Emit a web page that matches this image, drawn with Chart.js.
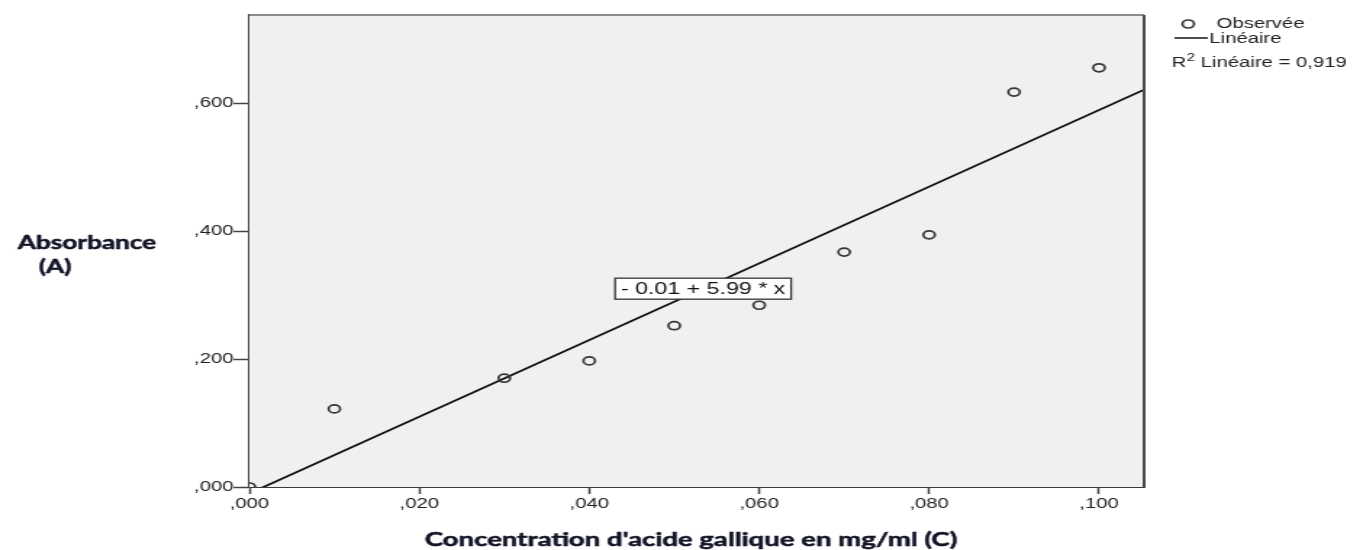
<!DOCTYPE html>
<html>
<head>
<meta charset="utf-8">
<style>
  html, body { margin: 0; padding: 0; background: #fff; overflow: hidden; }
  #c { display: block; }
</style>
<script src="https://cdn.jsdelivr.net/npm/chart.js@4/dist/chart.umd.min.js"></script>
</head>
<body>
<!-- the drawing surface is 940 px wide and shown 1.45x wider -->
<canvas id="c" width="940" height="550" style="width:1363px;height:550px"></canvas>
<script>
// Gallic acid calibration: concentration (mg/ml) vs absorbance
const concentrations = [0.000, 0.010, 0.030, 0.040, 0.050, 0.060, 0.070, 0.080, 0.090, 0.100];
const absorbances    = [0.000, 0.122, 0.170, 0.197, 0.252, 0.284, 0.367, 0.394, 0.617, 0.655];

const xTicks = [0, 0.02, 0.04, 0.06, 0.08, 0.10];
const yTicks = [0, 0.2, 0.4, 0.6];
const xRange = [0, 0.1053];
const yRange = [0, 0.7375];

// linear fit  A = a + b * C
const fitIntercept = -0.01;
const fitSlope = 5.99;
const rSquared = '0,919';
const equationAt = 0.0534;   // concentration where the equation box sits on the line

const xTitle = "Concentration d'acide gallique en mg/ml (C)";
const yTitle = ['Absorbance', '(A)'];
const legendObserved = 'Observée';
const legendLinear = 'Linéaire';

const fmt = v => ',' + v.toFixed(3).split('.')[1];
const fitAt = c => fitIntercept + fitSlope * c;
const equationText = (fitIntercept < 0 ? '- ' : '') + Math.abs(fitIntercept).toFixed(2) +
                     ' + ' + fitSlope.toFixed(2) + ' * x';

const pointColor = '#363636';
const titleColor = '#121326';

function drawRing(ctx, x, y, r) {
  ctx.save();
  ctx.beginPath();
  ctx.arc(x, y, r, 0, Math.PI * 2);
  ctx.lineWidth = 1.7;
  ctx.strokeStyle = pointColor;
  ctx.stroke();
  ctx.restore();
}

// bold title text with a thin outline for a heavier weight
function heavyText(ctx, text, x, y) {
  ctx.fillText(text, x, y);
  ctx.lineWidth = 0.5;
  ctx.strokeStyle = ctx.fillStyle;
  ctx.strokeText(text, x, y);
}

const decorations = {
  id: 'decorations',
  beforeDatasetsDraw(chart) {
    const { ctx, chartArea: a } = chart;
    ctx.save();
    ctx.fillStyle = '#f0f0f0';
    ctx.fillRect(a.left, a.top, a.right - a.left, a.bottom - a.top);
    ctx.restore();
  },
  afterDatasetsDraw(chart) {
    const { ctx, chartArea: a, scales } = chart;
    ctx.save();
    // frame: top and right edges
    ctx.lineWidth = 2;
    ctx.strokeStyle = '#8c8c8c';
    ctx.beginPath();
    ctx.moveTo(a.left, a.top); ctx.lineTo(a.right, a.top);
    ctx.stroke();
    ctx.strokeStyle = '#4a4a4a';
    ctx.beginPath();
    ctx.moveTo(a.right, a.top); ctx.lineTo(a.right, a.bottom);
    ctx.stroke();

    // equation box on the fit line
    const ex = scales.x.getPixelForValue(equationAt);
    const ey = scales.y.getPixelForValue(fitAt(equationAt));
    ctx.font = '16px "Liberation Sans", Arial, sans-serif';
    const tw = ctx.measureText(equationText).width;
    const bw = tw + 8, bh = 21;
    ctx.fillStyle = '#ffffff';
    ctx.fillRect(ex - bw / 2, ey - bh / 2, bw, bh);
    ctx.lineWidth = 1.3;
    ctx.strokeStyle = '#333';
    ctx.strokeRect(ex - bw / 2, ey - bh / 2, bw, bh);
    ctx.fillStyle = '#111';
    ctx.textAlign = 'center';
    ctx.textBaseline = 'middle';
    ctx.fillText(equationText, ex, ey + 1);

    // axis titles
    ctx.fillStyle = titleColor;
    ctx.font = 'bold 18px Lato, "Liberation Sans", sans-serif';
    heavyText(ctx, yTitle[0], 60, 243);
    heavyText(ctx, yTitle[1], 38, 267);
    ctx.font = 'bold 19px Lato, "Liberation Sans", sans-serif';
    heavyText(ctx, xTitle, (a.left + a.right) / 2 - 4, 540);

    // legend
    ctx.textAlign = 'left';
    ctx.fillStyle = '#222';
    ctx.font = '14px "Liberation Sans", Arial, sans-serif';
    drawRing(ctx, 819.5, 24, 4);
    ctx.fillText(legendObserved, 839, 24);
    ctx.strokeStyle = '#111';
    ctx.lineWidth = 1.5;
    ctx.beginPath();
    ctx.moveTo(810, 38); ctx.lineTo(833, 38);
    ctx.stroke();
    ctx.fillText(legendLinear, 834, 39);
    let x = 808;
    ctx.fillText('R', x, 63);
    x += ctx.measureText('R').width + 0.5;
    ctx.font = '10px "Liberation Sans", Arial, sans-serif';
    ctx.fillText('2', x, 58);
    x += ctx.measureText('2').width;
    ctx.font = '14px "Liberation Sans", Arial, sans-serif';
    ctx.fillText(' ' + legendLinear + ' = ' + rSquared, x, 63);
    ctx.restore();
  }
};

new Chart(document.getElementById('c'), {
  type: 'scatter',
  data: {
    datasets: [
      {
        label: legendLinear,
        type: 'line',
        data: xRange.map(c => ({ x: c, y: fitAt(c) })),
        borderColor: '#111',
        borderWidth: 1.8,
        pointRadius: 0,
        fill: false,
        order: 2
      },
      {
        label: legendObserved,
        data: concentrations.map((c, i) => ({ x: c, y: absorbances[i] })),
        pointStyle: 'circle',
        pointRadius: 4,
        pointBorderWidth: 1.7,
        borderColor: pointColor,
        backgroundColor: 'rgba(0,0,0,0)',
        order: 1
      }
    ]
  },
  options: {
    responsive: false,
    animation: false,
    devicePixelRatio: 1,
    layout: { padding: { left: 0, top: 15, right: 151, bottom: 0 } },
    plugins: { legend: { display: false }, tooltip: { enabled: false } },
    scales: {
      x: {
        type: 'linear',
        min: xRange[0], max: xRange[1],
        afterFit: s => { s.height = 63; },
        afterBuildTicks: s => { s.ticks = xTicks.map(v => ({ value: v })); },
        grid: { drawOnChartArea: false, drawTicks: true, tickLength: 7, color: '#444', tickWidth: 1.5 },
        border: { display: true, color: '#3a3a3a', width: 2 },
        ticks: {
          padding: 2,
          color: '#222',
          font: { family: '"Liberation Sans", Arial, sans-serif', size: 14 },
          callback: v => fmt(v),
          maxRotation: 0, autoSkip: false
        }
      },
      y: {
        type: 'linear',
        min: yRange[0], max: yRange[1],
        afterFit: s => { s.width = 172; },
        afterBuildTicks: s => { s.ticks = yTicks.map(v => ({ value: v })); },
        grid: { drawOnChartArea: false, drawTicks: true, tickLength: 11, color: '#444', tickWidth: 1.5 },
        border: { display: true, color: '#444', width: 2 },
        ticks: {
          padding: 0,
          color: '#222',
          font: { family: '"Liberation Sans", Arial, sans-serif', size: 14 },
          callback: v => fmt(v),
          autoSkip: false
        }
      }
    }
  },
  plugins: [decorations]
});
</script>
</body>
</html>
